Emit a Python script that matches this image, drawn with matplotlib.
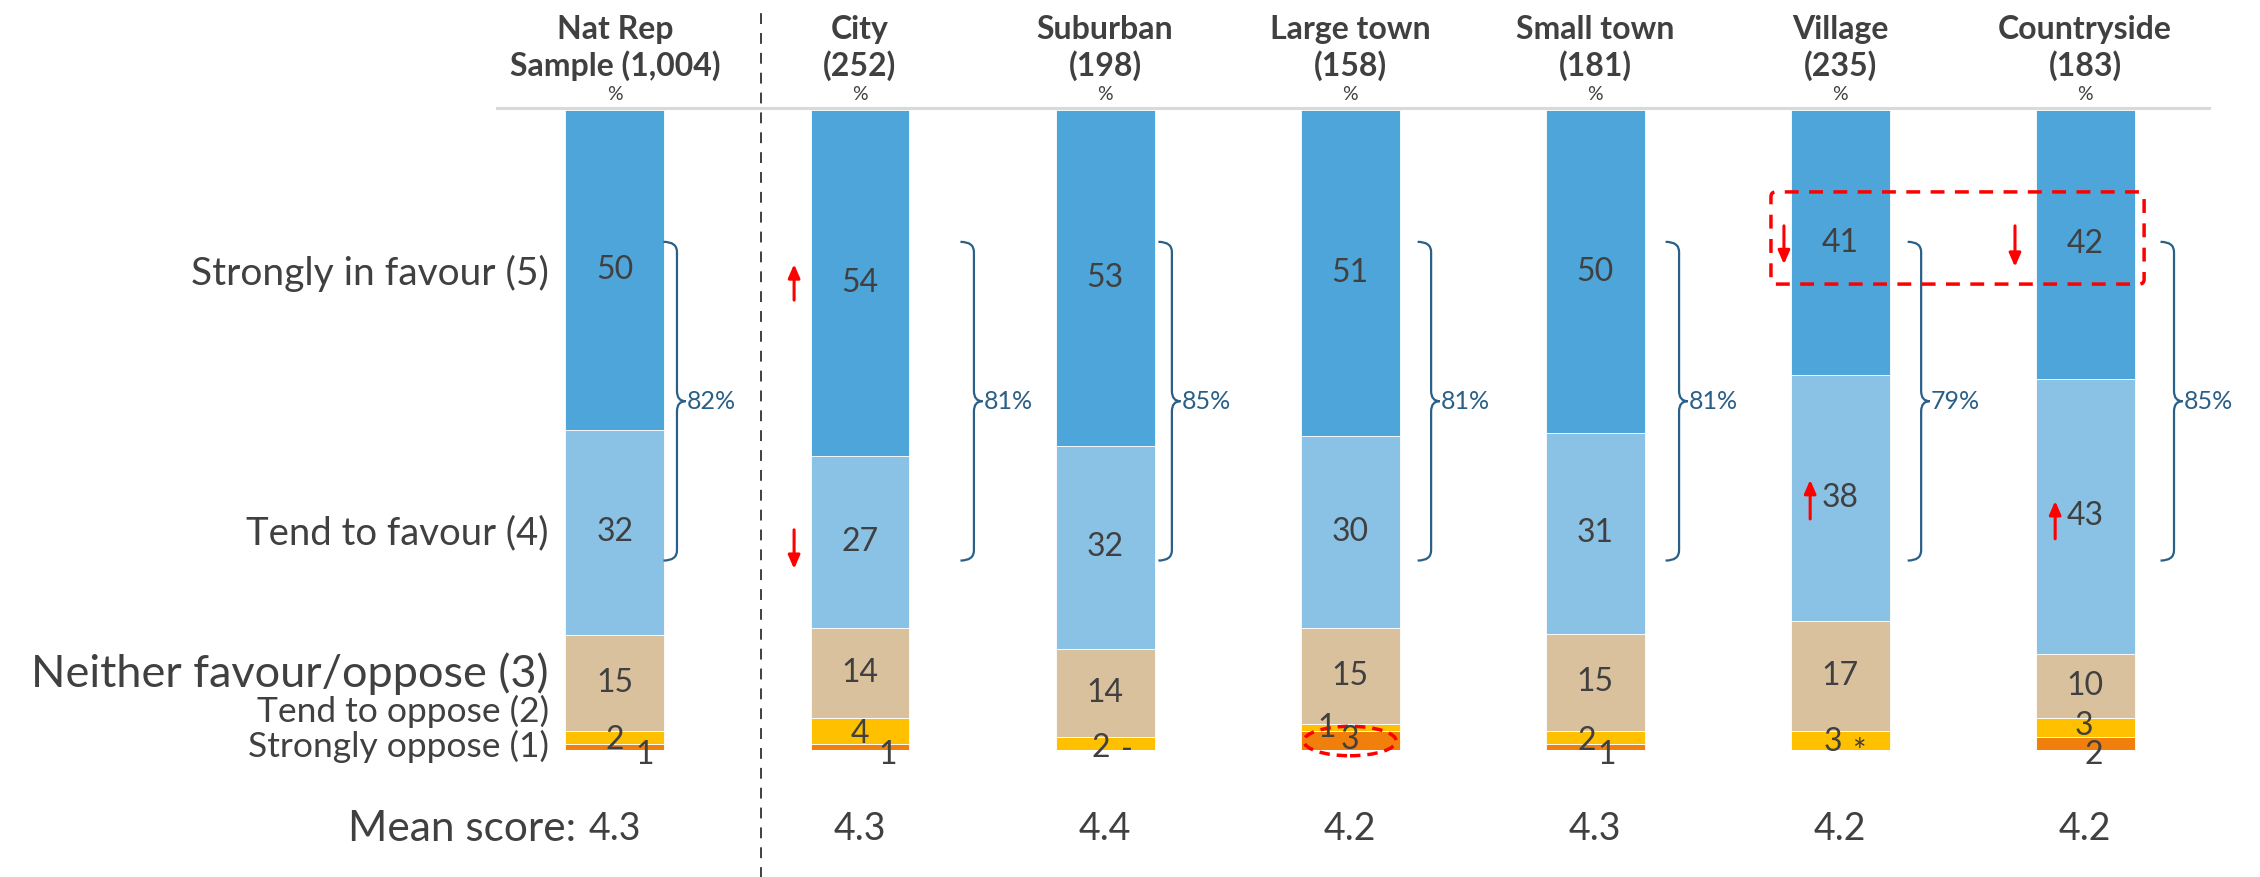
import matplotlib
matplotlib.use("Agg")
import matplotlib.pyplot as plt
from matplotlib.path import Path
from matplotlib.patches import PathPatch, Ellipse, FancyBboxPatch
import numpy as np

# ---- data ----
group_names = ["Nat Rep", "City", "Suburban", "Large town", "Small town", "Village", "Countryside"]
group_bases = ["Sample (1,004)", "(252)", "(198)", "(158)", "(181)", "(235)", "(183)"]
answers = ["Strongly in favour (5)", "Tend to favour (4)", "Neither favour/oppose (3)",
           "Tend to oppose (2)", "Strongly oppose (1)"]

strongly_favour = [50, 54, 53, 51, 50, 41, 42]
tend_favour = [32, 27, 32, 30, 31, 38, 43]
neither = [15, 14, 14, 15, 15, 17, 10]
tend_oppose = [2, 4, 2, 1, 2, 3, 3]
strongly_oppose = [1, 1, 0, 3, 1, 0, 2]
strongly_oppose_txt = ["1", "1", "-", "3", "1", "*", "2"]
net_favour = [82, 81, 85, 81, 81, 79, 85]
mean_score = [4.3, 4.3, 4.4, 4.2, 4.3, 4.2, 4.2]

# ---- style ----
plt.rcParams['font.family'] = ["Lato", "DejaVu Sans"]
TXT = "#404040"
BRACE = "#2A5F87"
colors = ["#F07F0C", "#FFC000", "#D9C19E", "#8AC2E6", "#4EA5D9"]

fig = plt.figure(figsize=(22.6, 8.77), dpi=100)
ax = fig.add_axes([0, 127 / 877, 1, 640 / 877])
ax.set_xlim(-2.51, 6.714)
ax.set_ylim(0, 100)
ax.axis("off")

x = np.arange(len(group_names))
w = 0.404
# rounded figures don't always add to 100, the bars in the chart always fill the column
stack = np.array([strongly_oppose, tend_oppose, neither, tend_favour, strongly_favour], dtype=float)
shares = stack / stack.sum(axis=0) * 100
bottom = np.zeros(len(x))
bottoms = []
for vals, c in zip(shares, colors):
    ax.bar(x, vals, w, bottom=bottom, color=c, edgecolor="white", linewidth=0.6)
    bottoms.append(bottom.copy())
    bottom = bottom + vals

NUM_FS = 23
# labels in big segments
for k, src in [(2, neither), (3, tend_favour), (4, strongly_favour)]:
    for i in x:
        ax.text(i, bottoms[k][i] + shares[k][i] / 2, str(src[i]), ha="center", va="center",
                fontsize=NUM_FS, color=TXT)

# small segments, nudged so they don't collide
to_off = [(0, -2), (0, -2), (-3, -3), (-17, 0), (-6, -3), (-5, -1), (-1, 1)]
so_off = [(21, -6), (20, -6), (16, 0), (0, 0), (8, -6), (14, -2), (6, -8)]
for i in x:
    ax.annotate(str(tend_oppose[i]), (i, bottoms[1][i] + shares[1][i] / 2), xytext=to_off[i],
                textcoords="offset points", ha="center", va="center", fontsize=NUM_FS, color=TXT,
                annotation_clip=False)
    ax.annotate(strongly_oppose_txt[i], (i, shares[0][i] / 2), xytext=so_off[i],
                textcoords="offset points", ha="center", va="center", fontsize=NUM_FS, color=TXT,
                annotation_clip=False)

# headers
for i in x:
    ax.text(i, 112.6, group_names[i], ha="center", va="center", fontsize=23, fontweight="bold",
            color=TXT, clip_on=False)
    ax.text(i, 107.0, group_bases[i], ha="center", va="center", fontsize=23, fontweight="bold",
            color=TXT, clip_on=False)
    ax.text(i, 102.4, "%", ha="center", va="center", fontsize=14, color=TXT, clip_on=False)
ax.plot([-0.482, 6.506], [100.35, 100.35], color="#D9D9D9", lw=2.2, clip_on=False, zorder=0)
ax.plot([0.596, 0.596], [-20, 116], color="#303030", lw=1.3, ls=(0, (6, 5)), clip_on=False)

# left answer labels
ans_y = [74.4, 33.9, 11.9, 6.0, 0.6]
ans_fs = [28, 27.5, 32.5, 25.5, 25.5]
for lab, yy, fs in zip(answers, ans_y, ans_fs):
    ax.text(-0.27, yy, lab, ha="right", va="center", fontsize=fs, color=TXT, clip_on=False)

# mean scores
ax.text(-0.16, -12.3, "Mean score:", ha="right", va="center", fontsize=30.5, color=TXT, clip_on=False)
for i in x:
    ax.text(i, -12.3, f"{mean_score[i]:.1f}", ha="center", va="center", fontsize=27, color=TXT,
            clip_on=False)

# braces for net favour
brace_dx = [0.253, 0.465, 0.273, 0.331, 0.343, 0.331, 0.363]
ytop, ybot = 79.4, 29.6
ymid = (ytop + ybot) / 2
hk, tp, r = 0.055, 0.035, 1.6
for i in x:
    bx = i + brace_dx[i]
    verts = [(bx - hk, ytop), (bx, ytop), (bx, ytop - r),
             (bx, ymid + r), (bx, ymid), (bx + tp, ymid),
             (bx, ymid), (bx, ymid - r),
             (bx, ybot + r), (bx, ybot), (bx - hk, ybot)]
    codes = [Path.MOVETO, Path.CURVE3, Path.CURVE3,
             Path.LINETO, Path.CURVE3, Path.CURVE3,
             Path.CURVE3, Path.CURVE3,
             Path.LINETO, Path.CURVE3, Path.CURVE3]
    ax.add_patch(PathPatch(Path(verts, codes), fill=False, edgecolor=BRACE, lw=1.6, clip_on=False))
    ax.text(bx + tp + 0.005, ymid, f"{net_favour[i]}%", ha="left", va="center", fontsize=18,
            color=BRACE, clip_on=False)

# significance markers
RED = "#FF0000"
arrows = [(1 - 0.269, 70.3, 75.9), (1 - 0.269, 34.4, 28.3),
          (5 - 0.229, 81.9, 75.9), (5 - 0.122, 36.1, 42.2),
          (6 - 0.286, 81.9, 75.5), (6 - 0.122, 33.0, 38.9)]
for ax_, y0, y1 in arrows:
    ax.annotate("", xy=(ax_, y1), xytext=(ax_, y0),
                arrowprops=dict(arrowstyle="-|>,head_length=0.8,head_width=0.35", color=RED,
                                lw=2.2, shrinkA=0, shrinkB=0),
                annotation_clip=False)
ax.add_patch(FancyBboxPatch((4.718, 72.8), 6.241 - 4.718, 87.2 - 72.8,
                            boxstyle="round,pad=0,rounding_size=0.02", fill=False, edgecolor=RED,
                            lw=2.5, ls=(0, (4, 3)), clip_on=False, mutation_aspect=38))
ax.add_patch(Ellipse((3.0, 1.4), 0.377, 4.6, fill=False, edgecolor=RED, lw=2.5, ls=(0, (3, 2)),
                     clip_on=False))

fig.savefig("out.png", dpi=100)
